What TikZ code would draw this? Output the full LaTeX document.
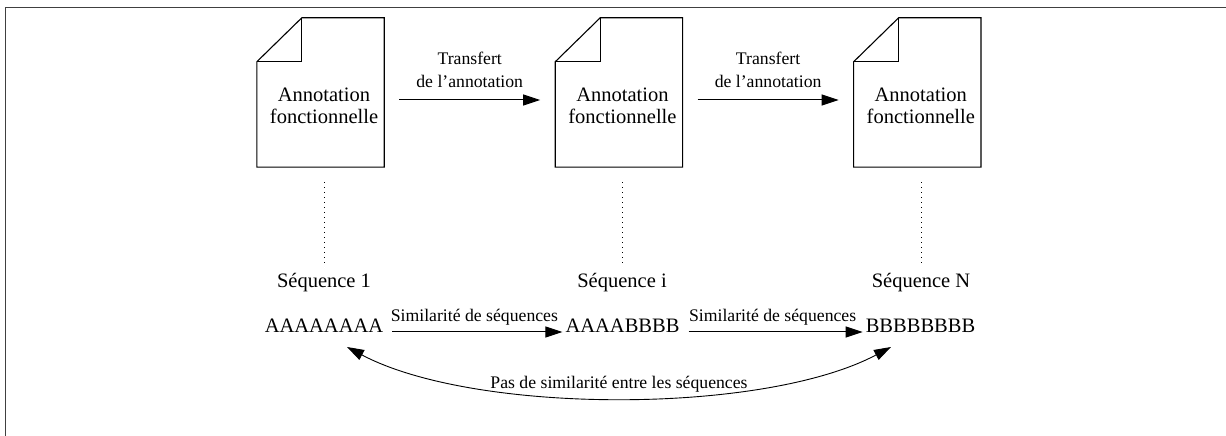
\documentclass[tikz,border=0pt]{standalone}
\usepackage{fontspec}
\setmainfont{Liberation Serif}
\usetikzlibrary{positioning,arrows.meta}

\tikzset{
	docbox/.style={minimum width=127pt, minimum height=149pt, inner sep=0pt},
	docline/.style={line width=1.1pt, line join=miter},
	doctext/.style={align=center, font=\fontsize{20.5}{22}\selectfont, inner sep=0pt},
	seqname/.style={font=\fontsize{20.5}{24}\selectfont, anchor=base},
	seq/.style={font=\fontsize{20.5}{24}\selectfont, anchor=base, inner sep=3pt},
	lbl/.style={font=\fontsize{17.7}{23}\selectfont, align=center},
	arr/.style={line width=1pt, -{Triangle[length=17pt,width=11pt]}},
	dblarr/.style={line width=0.9pt, {Triangle[length=17pt,width=11pt]}-{Triangle[length=17pt,width=11pt]}},
	dots/.style={line width=0.9pt, dash pattern=on 0.9pt off 4.1pt},
}

\begin{document}
\begin{tikzpicture}[x=1pt, y=1pt, node distance=171pt]
			\useasboundingbox (0,0) rectangle (1226,436);
			\draw[line width=1.6pt, black!75] (5.5,0) -- (5.5,428.5) -- (1226,428.5);
			
			\node[docbox] (doc1) at (320.5,343.5) {};
			\node[docbox, right=of doc1] (doc2) {};
			\node[docbox, right=of doc2] (doc3) {};
			
			\foreach \d in {doc1,doc2,doc3} {
				\draw[docline] ([yshift=-44pt]\d.north west) -- ([xshift=45pt]\d.north west) -- (\d.north east) -- (\d.south east) -- (\d.south west) -- cycle;
				\draw[docline] ([yshift=-44pt]\d.north west) -| ([xshift=45pt]\d.north west);
				\node[doctext] (\d-txt) at ([shift={(3.5,-13.5)}]\d.center) {Annotation\\fonctionnelle};
			}
			
			\draw[arr, shorten <=15pt, shorten >=15pt] ([yshift=-7.5pt]doc1.east) -- ([yshift=-7.5pt]doc2.west) node[lbl, midway, above=8pt] {Transfert\\de l'annotation};
			\draw[arr, shorten <=15pt, shorten >=15pt] ([yshift=-7.5pt]doc2.east) -- ([yshift=-7.5pt]doc3.west) node[lbl, midway, above=8pt] {Transfert\\de l'annotation};
			
			\node[seqname] (nom1) at (324,148) {Séquence 1};
			\node[seqname] (nom2) at (622,148) {Séquence i};
			\node[seqname] (nom3) at (921,148) {Séquence N};
			
			\draw[dots, shorten <=15pt, shorten >=4pt] (doc1.south -| nom1) -- (nom1.north);
			\draw[dots, shorten <=15pt, shorten >=4pt] (doc2.south -| nom2) -- (nom2.north);
			\draw[dots, shorten <=15pt, shorten >=4pt] (doc3.south -| nom3) -- (nom3.north);
			
			\node[seq] (s1) at (324,103) {AAAAAAAA};
			\node[seq] (s2) at (622.5,103) {AAAABBBB};
			\node[seq] (s3) at (920.5,103) {BBBBBBBB};
			
			\draw[arr, shorten <=6pt] ([yshift=1pt]s1.base east) -- ([yshift=1pt]s2.base west) node[lbl, midway, above=3pt] {Similarité de séquences};
			\draw[arr, shorten <=6pt] ([yshift=1pt]s2.base east) -- ([yshift=1pt]s3.base west) node[lbl, midway, above=3pt] {Similarité de séquences};
			
			\draw[dblarr] ([shift={(23,-14)}]s1.base) to[out=-28, in=-152, looseness=0.68] node[lbl, midway, above=2pt] {Pas de similarité entre les séquences} ([shift={(-29.5,-14)}]s3.base);
			
\end{tikzpicture}
\end{document}
